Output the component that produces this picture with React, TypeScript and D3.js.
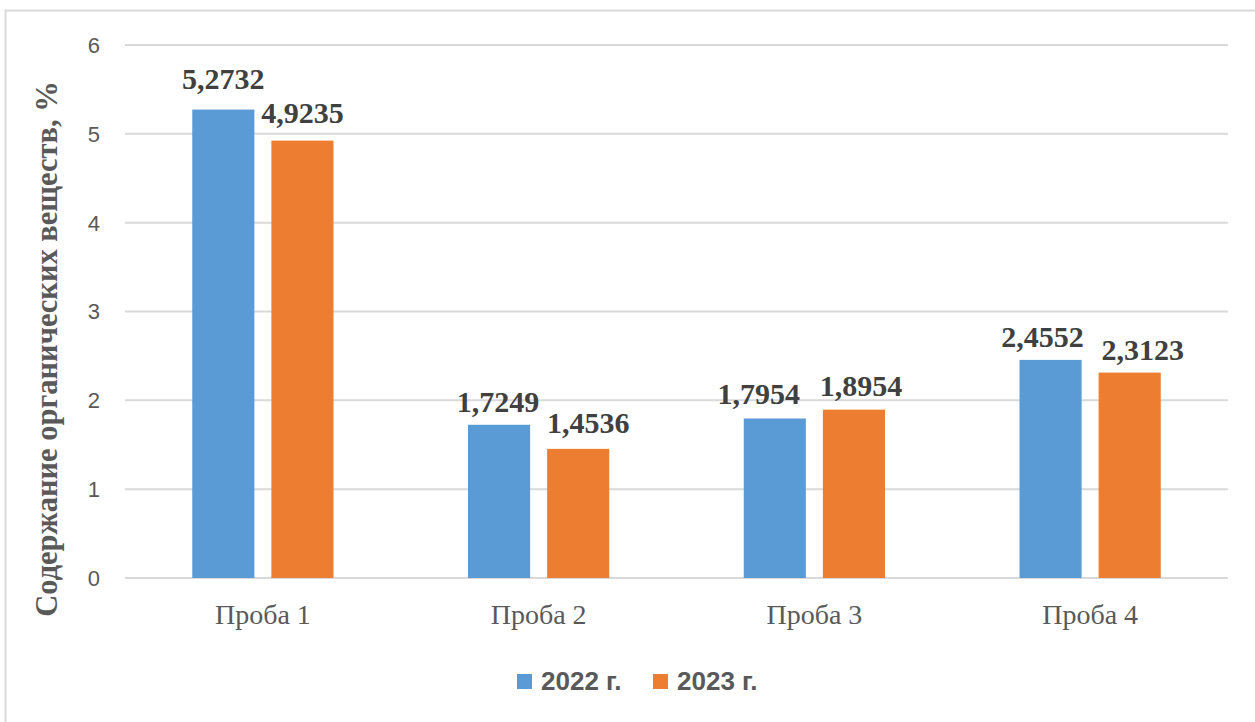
import * as d3 from "d3";

const categories = ["Проба 1", "Проба 2", "Проба 3", "Проба 4"];
const seriesNames = ["2022 г.", "2023 г."];
const values2022 = [5.2732, 1.7249, 1.7954, 2.4552];
const values2023 = [4.9235, 1.4536, 1.8954, 2.3123];
const yTicks = [0, 1, 2, 3, 4, 5, 6];
const colors = ["#5b9bd5", "#ed7d31"];

// labels were nudged by hand in the original so neighbours don't collide
const labelDx = [
  [0, -1, -16, -8],
  [0, 10, 7, 13],
];
const labelGap = [
  [21, 13, 15, 13],
  [18, 16, 14, 13],
];

const W = 1255;
const H = 722;

function App() {
  const x0 = d3.scaleBand<string>().domain(categories).range([125, 1228]).padding(0);
  const x1 = d3
    .scaleBand<string>()
    .domain(seriesNames)
    .range([0, x0.bandwidth()])
    .paddingInner(0.215)
    .paddingOuter(0.85);
  const y = d3.scaleLinear().domain([0, 6]).range([578, 45]);

  const series = [values2022, values2023];
  const fmt = (v: number) => v.toFixed(4).replace(".", ",");

  return (
    <svg width={W} height={H} style={{ position: "absolute", left: 0, top: 0, background: "#fff" }}>
      <rect x={5.5} y={10.5} width={W + 10} height={H + 10} fill="#fff" stroke="#d9d9d9" strokeWidth={2} />
      {yTicks.map((t) => (
        <g key={t}>
          <line x1={125} x2={1228} y1={y(t)} y2={y(t)} stroke="#d9d9d9" strokeWidth={2} />
          <text
            x={100}
            y={y(t)}
            dy="0.36em"
            textAnchor="end"
            fontFamily="Liberation Sans, Arial, sans-serif"
            fontSize={22}
            fill="#595959"
          >
            {t}
          </text>
        </g>
      ))}
      {categories.map((c, i) => (
        <g key={c} transform={`translate(${x0(c)},0)`}>
          {seriesNames.map((s, j) => {
            const v = series[j][i];
            const bx = x1(s) ?? 0;
            return (
              <g key={s}>
                <rect x={bx} y={y(v)} width={x1.bandwidth()} height={y(0) - y(v)} fill={colors[j]} />
                <text
                  x={bx + x1.bandwidth() / 2 + labelDx[j][i]}
                  y={y(v) - labelGap[j][i]}
                  textAnchor="middle"
                  fontFamily="Liberation Serif, Times New Roman, serif"
                  fontWeight="bold"
                  fontSize={30}
                  fill="#404040"
                >
                  {fmt(v)}
                </text>
              </g>
            );
          })}
          <text
            x={x0.bandwidth() / 2}
            y={624}
            textAnchor="middle"
            fontFamily="Liberation Serif, Times New Roman, serif"
            fontSize={28}
            fill="#595959"
          >
            {c}
          </text>
        </g>
      ))}
      <text
        transform="translate(57,349) rotate(-90)"
        textAnchor="middle"
        fontFamily="Liberation Serif, Times New Roman, serif"
        fontWeight="bold"
        fontSize={30.5}
        fill="#595959"
      >
        Содержание органических веществ, %
      </text>
      {seriesNames.map((s, j) => {
        const lx = 517 + j * 136;
        return (
          <g key={s}>
            <rect x={lx} y={674} width={15} height={15} fill={colors[j]} />
            <text
              x={lx + 24}
              y={690}
              fontFamily="Liberation Sans, Arial, sans-serif"
              fontWeight="bold"
              fontSize={26}
              fill="#595959"
            >
              {s}
            </text>
          </g>
        );
      })}
    </svg>
  );
}

export default App;
